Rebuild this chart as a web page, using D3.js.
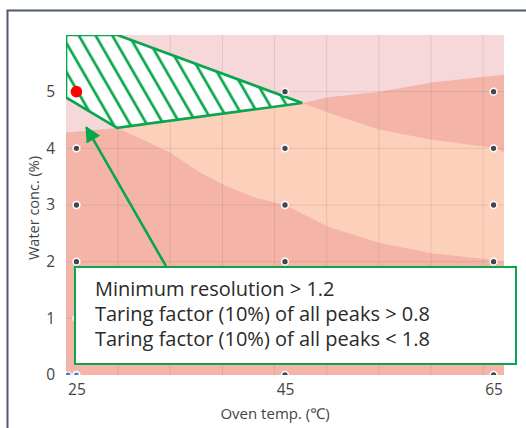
<!DOCTYPE html>
<html><head><meta charset="utf-8">
<script src="https://cdn.jsdelivr.net/npm/d3@7"></script>
<style>
body{margin:0;background:#fff;}
svg{display:block;}
text{font-family:"Open Sans","Noto Sans",sans-serif;}
</style>
</head><body>
<svg id="c" width="526" height="428"></svg>
<script>
// ---- data ----
const xTickVals = [25, 45, 65];
const yTickVals = [0, 1, 2, 3, 4, 5];
const xGridVals = [29, 34, 39, 44, 49, 54, 59, 64];
const yGridVals = [1, 2, 3, 4, 5];
const expTemps = [25, 45, 65];
const expWater = [0, 1, 2, 3, 4, 5];
const bluePtsX = [24.2, 25];
const bluePtsY = [0, 0];
const optimumX = [25];
const optimumY = [5];
// lower salmon region (upper boundary)
const lowerX = [24, 28.9, 31.4, 34, 36.9, 39.5, 42, 45, 49.1, 54.1, 59.1, 65, 66];
const lowerY = [4.28, 4.36, 4.15, 3.92, 3.57, 3.32, 3.14, 3.0, 2.62, 2.33, 2.15, 2.03, 2.0];
// peach region
const peachX = [28.9, 46.65, 66, 66, 28.9];
const peachY = [4.36, 4.8, 4.8, 0, 0];
// upper salmon wedge
const wedgeX = [46.65, 49.15, 54.1, 59.1, 65, 66];
const wedgeTop = [4.8, 4.9, 5.0, 5.16, 5.28, 5.3];
const wedgeBottom = [4.8, 4.63, 4.33, 4.15, 4.01, 3.93];
// design space polygon
const dsX = [24, 28.93, 46.65, 28.9, 24];
const dsY = [6, 6, 4.8, 4.36, 4.9];
// annotation
const noteLines = ["Minimum resolution > 1.2", "Taring factor (10%) of all peaks > 0.8", "Taring factor (10%) of all peaks < 1.8"];
const xTitle = "Oven temp. (℃)";
const yTitle = "Water conc. (%)";

// ---- layout ----
const W = 526, H = 428;
const x = d3.scaleLinear().domain([24, 66]).range([66, 504]);
const y = d3.scaleLinear().domain([0, 6]).range([375, 35]);

const svg = d3.select("#c");
const defs = svg.append("defs");
defs.append("clipPath").attr("id", "plotclip").append("rect")
  .attr("x", x(24)).attr("y", y(6)).attr("width", x(66) - x(24)).attr("height", y(0) - y(6));
const pat = defs.append("pattern").attr("id", "hatch").attr("patternUnits", "userSpaceOnUse")
  .attr("width", 14.5).attr("height", 14.5).attr("patternTransform", "rotate(-30)");
pat.append("rect").attr("width", 14.5).attr("height", 14.5).attr("fill", "#fff");
pat.append("line").attr("x1", 7).attr("x2", 7).attr("y1", 0).attr("y2", 14.5)
  .attr("stroke", "#0aa64e").attr("stroke-width", 2.7);
const mk = defs.append("marker").attr("id", "ah").attr("viewBox", "0 0 10 10")
  .attr("refX", 9).attr("refY", 5).attr("markerWidth", 6.5).attr("markerHeight", 6)
  .attr("orient", "auto").attr("markerUnits", "strokeWidth");
mk.append("path").attr("d", "M0,0 L10,5 L0,10 Z").attr("fill", "#0aa64e");

// outer frame
svg.append("path").attr("d", `M7.5,${H} L7.5,10.5 L${W},10.5`)
  .attr("fill", "none").attr("stroke", "#4f5a6e").attr("stroke-width", 2);

const plot = svg.append("g").attr("clip-path", "url(#plotclip)");
// background
plot.append("rect").attr("x", x(24)).attr("y", y(6)).attr("width", x(66) - x(24)).attr("height", y(0) - y(6))
  .attr("fill", "#f6d8db");
// peach
const poly = (xs, ys) => d3.line().x((d, i) => x(xs[i])).y((d, i) => y(ys[i]))(xs) + "Z";
plot.append("path").attr("d", poly(peachX, peachY)).attr("fill", "#fdd0bb");
// lower salmon
plot.append("path").attr("d", d3.area().x((d, i) => x(lowerX[i])).y0(y(0)).y1((d, i) => y(lowerY[i]))(lowerX))
  .attr("fill", "#f4b5a8");
// wedge salmon
plot.append("path").attr("d", d3.area().x((d, i) => x(wedgeX[i])).y0((d, i) => y(wedgeBottom[i])).y1((d, i) => y(wedgeTop[i]))(wedgeX))
  .attr("fill", "#f4b5a8");
// grid
plot.selectAll(".gx").data(xGridVals).join("line")
  .attr("x1", d => x(d)).attr("x2", d => x(d)).attr("y1", y(0)).attr("y2", y(6))
  .attr("stroke", "rgba(110,60,60,0.13)").attr("stroke-width", 1);
plot.selectAll(".gy").data(yGridVals).join("line")
  .attr("x1", x(24)).attr("x2", x(66)).attr("y1", d => y(d)).attr("y2", d => y(d))
  .attr("stroke", "rgba(110,60,60,0.13)").attr("stroke-width", 1);

// design space polygon
plot.append("path").attr("d", poly(dsX, dsY))
  .attr("fill", "url(#hatch)").attr("stroke", "#0aa64e").attr("stroke-width", 2.7).attr("stroke-linejoin", "miter");

// experiment points
const pts = [];
expTemps.forEach(t => expWater.forEach(w => pts.push([t, w])));
plot.selectAll(".pt").data(pts).join("circle")
  .attr("cx", d => x(d[0])).attr("cy", d => y(d[1])).attr("r", 3.4)
  .attr("fill", "#454552").attr("stroke", "#fff").attr("stroke-width", 1.5);
plot.selectAll(".bp").data(bluePtsX).join("circle")
  .attr("cx", d => x(d)).attr("cy", (d, i) => y(bluePtsY[i])).attr("r", 3)
  .attr("fill", "#3b7be0").attr("stroke", "#fff").attr("stroke-width", 1.2);
plot.selectAll(".op").data(optimumX).join("circle")
  .attr("cx", d => x(d)).attr("cy", (d, i) => y(optimumY[i])).attr("r", 5.8)
  .attr("fill", "#ff0000");

// axes
const ax = svg.append("g").attr("transform", `translate(0,${y(0)})`)
  .call(d3.axisBottom(x).tickValues(xTickVals).tickFormat(d3.format("d")).tickSize(0).tickPadding(9));
const ay = svg.append("g").attr("transform", `translate(${x(24)},0)`)
  .call(d3.axisLeft(y).tickValues(yTickVals).tickFormat(d3.format("d")).tickSize(0).tickPadding(11));
[ax, ay].forEach(g => {
  g.select(".domain").remove();
  g.selectAll("text").attr("font-size", 15.5).attr("fill", "#444").attr("font-family", "'Open Sans','Noto Sans',sans-serif");
});
svg.append("text").attr("x", 275).attr("y", 419).attr("text-anchor", "middle")
  .attr("font-size", 15).attr("fill", "#444").text(xTitle);
svg.append("text").attr("transform", `translate(39,208) rotate(-90)`).attr("text-anchor", "middle")
  .attr("font-size", 14.5).attr("fill", "#444").text(yTitle);

// annotation arrow
svg.append("line")
  .attr("x1", x(33.59)).attr("y1", y(1.92)).attr("x2", x(25.95)).attr("y2", y(4.37))
  .attr("stroke", "#0aa64e").attr("stroke-width", 2.6).attr("marker-end", "url(#ah)");
// annotation box
const bx0 = x(24.86), bx1 = x(67.15), by0 = y(1.906), by1 = y(0.194);
svg.append("rect").attr("x", bx0).attr("y", by0).attr("width", bx1 - bx0).attr("height", by1 - by0)
  .attr("fill", "#fff").attr("stroke", "#0aa64e").attr("stroke-width", 2);
svg.selectAll(".nl").data(noteLines).join("text")
  .attr("x", bx0 + 20).attr("y", (d, i) => by0 + 29.5 + i * 25)
  .attr("font-size", 20).attr("fill", "#2a2a2a").text(d => d);
</script>
</body></html>
